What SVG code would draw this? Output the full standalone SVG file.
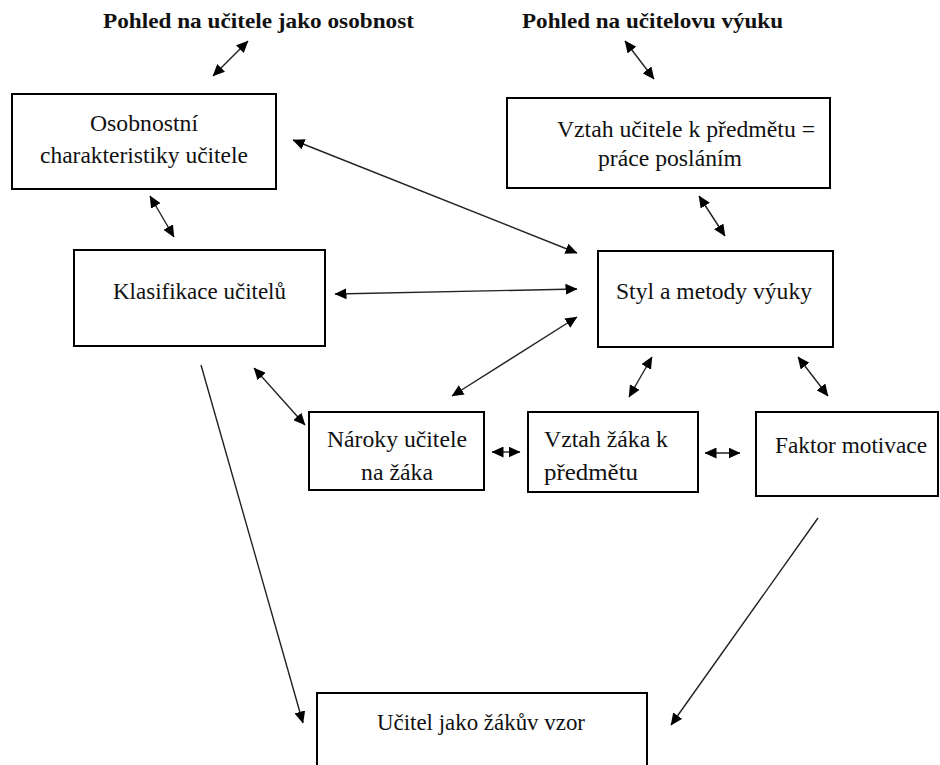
<svg xmlns="http://www.w3.org/2000/svg" width="940" height="765" viewBox="0 0 940 765">
<style>
.box{fill:#fff;stroke:#000;stroke-width:2}
.t{font-family:"Liberation Serif","Times New Roman",serif;font-size:24px;fill:#111}
.h{font-family:"Liberation Serif","Times New Roman",serif;font-size:22px;font-weight:bold;fill:#111}
.c{stroke:#222;stroke-width:1.4;fill:none}
.bi{marker-start:url(#ah);marker-end:url(#ah)}
.un{marker-end:url(#ah)}
</style>
<defs>
<marker id="ah" markerUnits="userSpaceOnUse" markerWidth="12" markerHeight="11" refX="11.5" refY="5.5" orient="auto-start-reverse">
<path d="M0,0 L12,5.5 L0,11 z" fill="#000"/>
</marker>
</defs>
<rect width="940" height="765" fill="#fff"/>
<g id="title-osobnost"><text class="h" x="103" y="28" textLength="311" lengthAdjust="spacingAndGlyphs">Pohled na učitele jako osobnost</text></g>
<g id="title-vyuka"><text class="h" x="522" y="28" textLength="261" lengthAdjust="spacingAndGlyphs">Pohled na učitelovu výuku</text></g>
<g id="osobnostni">
<rect class="box" x="12" y="94" width="264" height="95"/>
<text class="t" x="90" y="131" textLength="108" lengthAdjust="spacingAndGlyphs">Osobnostní</text>
<text class="t" x="40" y="163" textLength="208" lengthAdjust="spacingAndGlyphs">charakteristiky učitele</text>
</g>
<g id="vztah-ucitele">
<rect class="box" x="507" y="98" width="323" height="90"/>
<text class="t" x="557" y="137" textLength="258" lengthAdjust="spacingAndGlyphs">Vztah učitele k předmětu =</text>
<text class="t" x="598" y="166" textLength="144" lengthAdjust="spacingAndGlyphs">práce posláním</text>
</g>
<g id="klasifikace">
<rect class="box" x="74" y="250" width="251" height="96"/>
<text class="t" x="113" y="299" textLength="173" lengthAdjust="spacingAndGlyphs">Klasifikace učitelů</text>
</g>
<g id="styl">
<rect class="box" x="598" y="251" width="235" height="96"/>
<text class="t" x="616" y="299" textLength="196" lengthAdjust="spacingAndGlyphs">Styl a metody výuky</text>
</g>
<g id="naroky">
<rect class="box" x="309" y="412" width="175" height="78"/>
<text class="t" x="327" y="447" textLength="140" lengthAdjust="spacingAndGlyphs">Nároky učitele</text>
<text class="t" x="361" y="480" textLength="72" lengthAdjust="spacingAndGlyphs">na žáka</text>
</g>
<g id="vztah-zaka">
<rect class="box" x="528" y="412" width="170" height="80"/>
<text class="t" x="544" y="447" textLength="124" lengthAdjust="spacingAndGlyphs">Vztah žáka k</text>
<text class="t" x="544" y="480" textLength="94" lengthAdjust="spacingAndGlyphs">předmětu</text>
</g>
<g id="faktor">
<rect class="box" x="756" y="412" width="182" height="84"/>
<text class="t" x="775" y="453" textLength="152" lengthAdjust="spacingAndGlyphs">Faktor motivace</text>
</g>
<g id="ucitel-vzor">
<rect class="box" x="317" y="693" width="330" height="80"/>
<text class="t" x="377" y="730" textLength="208" lengthAdjust="spacingAndGlyphs">Učitel jako žákův vzor</text>
</g>
<g id="connectors">
<line class="c bi" x1="248" y1="41" x2="213" y2="76"/>
<line class="c bi" x1="625" y1="41" x2="654" y2="79"/>
<line class="c bi" x1="150" y1="196" x2="174" y2="237"/>
<line class="c bi" x1="293" y1="140" x2="577" y2="253"/>
<line class="c bi" x1="335" y1="294" x2="577" y2="289"/>
<line class="c bi" x1="452" y1="396" x2="577" y2="317"/>
<line class="c bi" x1="699" y1="196" x2="725" y2="236"/>
<line class="c bi" x1="652" y1="357" x2="629" y2="397"/>
<line class="c bi" x1="798" y1="357" x2="828" y2="396"/>
<line class="c bi" x1="254" y1="368" x2="305" y2="425"/>
<line class="c bi" x1="492" y1="452" x2="520" y2="452"/>
<line class="c bi" x1="705" y1="453" x2="740" y2="453"/>
<line class="c un" x1="201" y1="365" x2="303" y2="723"/>
<line class="c un" x1="818" y1="518" x2="671" y2="725"/>
</g>
</svg>
